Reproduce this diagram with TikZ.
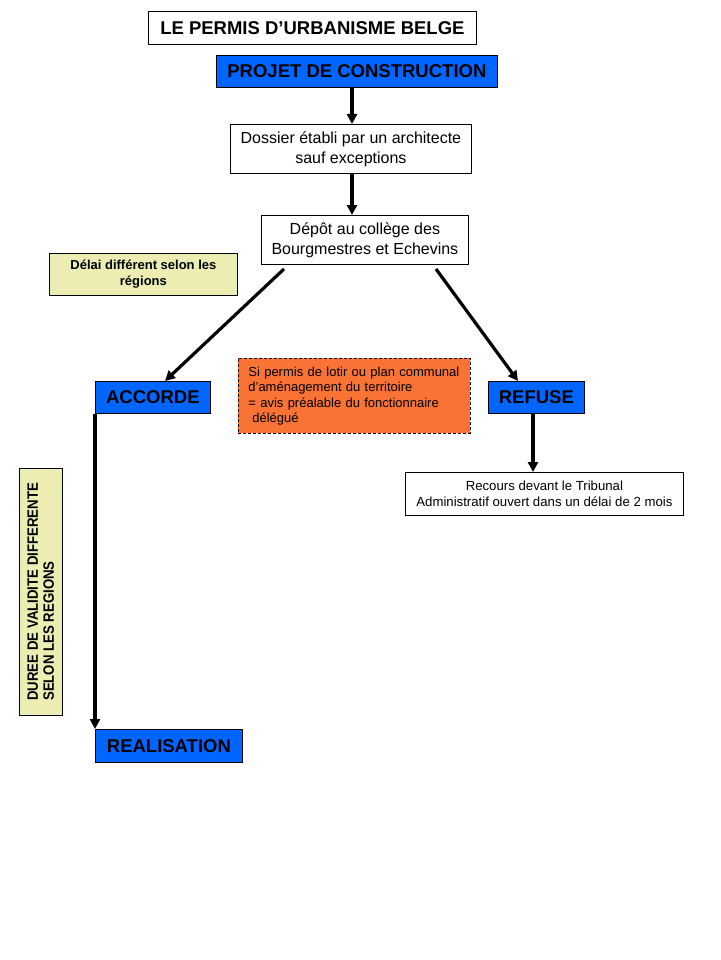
\documentclass[tikz,border=0pt]{standalone}
\usepackage{fontspec}
\setmainfont{Liberation Sans}
\usetikzlibrary{arrows.meta}
\definecolor{bblue}{RGB}{0,102,255}
\definecolor{oran}{RGB}{249,115,52}
\definecolor{yell}{RGB}{235,237,178}
\begin{document}
\begin{tikzpicture}[x=1pt,y=-1pt,
  box/.style={draw=black,line width=0.8pt,inner sep=0pt,anchor=north west,align=center},
  bluebox/.style={box,fill=bblue,font=\fontsize{18.5}{20}\selectfont\bfseries},
  whitebox/.style={box,fill=white,font=\fontsize{16}{20}\selectfont},
  arr/.style={line width=3.2pt,-{Triangle[length=10pt,width=10pt]}}]
\useasboundingbox (0,0) rectangle (720,960);
% title
\node[box,minimum width=328pt,minimum height=33pt,font=\fontsize{18.5}{20}\selectfont\bfseries] (title) at (148,11) {LE PERMIS D'URBANISME BELGE};
\node[bluebox,minimum width=281pt,minimum height=32pt] (projet) at (216,55) {PROJET DE CONSTRUCTION};
\node[whitebox,minimum width=241pt,minimum height=49pt] (dossier) at (230,124) {Dossier établi par un architecte\\sauf exceptions};
\node[whitebox,minimum width=207pt,minimum height=49pt] (depot) at (261,215) {Dépôt au collège des\\Bourgmestres et Echevins};
\node[box,fill=yell,minimum width=188pt,minimum height=42pt,font=\fontsize{13}{16}\selectfont\bfseries] (delai) at (49,253) {Délai différent selon les\\régions};
\node[box,fill=oran,dashed,dash pattern=on 3pt off 2pt,minimum width=232pt,minimum height=75pt,align=left,font=\fontsize{13}{15.5}\selectfont,text width=220pt] (lotir) at (238,358) {\hspace*{4pt}Si permis de lotir ou plan communal\\\hspace*{4pt}d'aménagement du territoire\\\hspace*{4pt}= avis préalable du fonctionnaire\\\hspace*{8pt}délégué};
\node[bluebox,minimum width=115pt,minimum height=32pt] (accorde) at (95,381) {ACCORDE};
\node[bluebox,minimum width=96pt,minimum height=32pt] (refuse) at (488,381) {REFUSE};
\node[box,fill=white,minimum width=278pt,minimum height=43pt,font=\fontsize{13.2}{16}\selectfont] (recours) at (405,472) {Recours devant le Tribunal\\Administratif ouvert dans un délai de 2 mois};
\node[box,fill=yell,minimum width=43pt,minimum height=247pt] (duree) at (19,468) {};
\node[rotate=90,align=left,font=\fontsize{15}{16}\selectfont\bfseries] (dureetxt) at (duree.center) {\scalebox{0.88}[1]{DUREE DE VALIDITE DIFFERENTE}\\\scalebox{0.88}[1]{SELON LES REGIONS}};
\node[bluebox,minimum width=147pt,minimum height=33pt] (real) at (95,729) {REALISATION};
% arrows
\draw[arr] (projet.south -| 352,0) -- (dossier.north -| 352,0);
\draw[arr] (dossier.south -| 352,0) -- (depot.north -| 352,0);
\coordinate (d1) at (284,269);
\coordinate (d2) at (436,269);
\draw[arr] (d1) -- (accorde.north -| 165,0);
\draw[arr] (d2) -- (refuse.north -| 518,0);
\draw[arr] (refuse.south -| 533,0) -- (recours.north -| 533,0);
\draw[arr] (accorde.south west) -- (real.north west);
\end{tikzpicture}
\end{document}
